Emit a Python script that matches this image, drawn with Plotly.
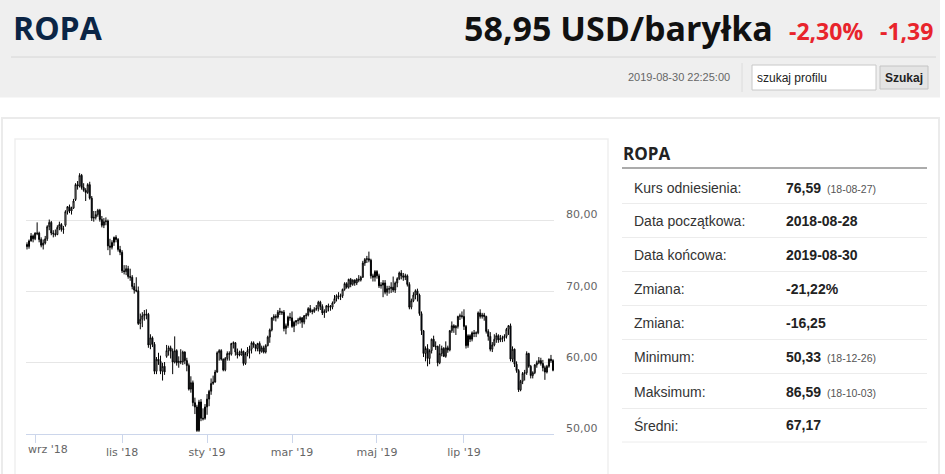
import plotly.graph_objects as go
import pandas as pd

# ---------------- data ----------------
holidays = ['2018-12-25', '2019-01-01', '2019-04-19']
days = [d.strftime('%Y-%m-%d') for d in pd.bdate_range('2018-08-28', '2019-08-30')
        if d.strftime('%Y-%m-%d') not in holidays]

opens = [
    76.6, 76.3, 77.1, 77.8,
    77.4, 78.1, 78.2, 77.3, 76.5, 76.8, 77.4, 79.1, 79.7, 78.2, 78.1, 78.0, 79.0, 79.4, 78.7, 79.3, 81.2, 81.9, 81.3, 81.7,
    82.9, 85.0, 84.8, 86.3, 84.6, 84.2, 83.9, 85.0, 83.1, 80.3, 80.4, 80.8, 81.4, 80.1, 79.3, 79.8, 79.9, 76.4, 76.2, 76.9, 77.6, 77.3, 75.9,
    75.5, 72.9, 72.8, 73.2, 72.1, 72.0, 70.7, 70.2, 70.1, 65.5, 66.1, 66.6, 66.7, 66.8, 62.5, 63.5, 62.6, 58.8, 60.5, 60.2, 58.8, 59.5,
    60.9, 61.7, 62.1, 61.6, 60.1, 61.7, 60.0, 60.2, 60.1, 61.5, 60.3, 59.6, 56.3, 57.2, 54.4, 53.8, 50.5, 54.5, 52.1, 52.2,
    53.8, 54.9, 56.0, 57.1, 57.3, 58.7, 61.4, 61.7, 60.5, 59.0, 60.6, 61.3, 61.2, 62.7, 62.8, 61.5, 61.2, 61.1, 61.6, 59.9, 61.3, 61.7,
    61.9, 62.8, 62.5, 62.0, 62.7, 61.6, 62.1, 61.5, 62.4, 63.6, 64.6, 66.3, 66.5, 66.4, 67.2, 67.0, 67.1, 64.8, 65.2, 66.4,
    66.3, 65.1, 65.7, 65.9, 66.0, 66.3, 65.7, 66.6, 66.7, 67.6, 67.3, 67.2, 67.5, 67.6, 68.5, 67.9, 67.0, 67.2, 68.0, 67.9, 67.8,
    68.4, 69.0, 69.4, 69.3, 69.4, 70.3, 71.1, 70.6, 71.7, 71.0, 71.6, 71.2, 71.7, 71.6, 72.0, 74.0, 74.5, 74.6, 74.4, 72.2, 72.0,
    72.8, 72.2, 70.8, 70.9, 71.2, 69.9, 70.3, 70.4, 70.6, 70.2, 71.2, 71.8, 72.6, 72.2, 72.0, 72.2, 71.0, 67.8, 68.7, 69.5, 70.1, 69.5, 66.9,
    64.5, 61.3, 62.0, 60.6, 61.7, 63.3, 62.2, 62.3, 60.0, 61.3, 62.0, 60.9, 62.1, 61.8, 64.5, 65.2, 64.9, 65.1, 66.5, 66.6,
    66.5, 65.1, 62.4, 63.8, 63.3, 64.2, 64.1, 64.2, 67.0, 66.5, 66.7, 66.5, 64.4, 63.7, 61.9, 62.5, 63.3, 63.8, 63.2, 63.4, 63.5, 63.7, 64.7,
    65.2, 60.5, 61.9, 59.8, 58.9, 56.2, 57.4, 58.5, 58.6, 61.3, 59.5, 58.2, 58.6, 59.7, 60.0, 60.3, 59.9, 59.3, 58.7, 59.5, 60.5, 60.3,
]
highs = [
    76.9, 77.3, 78.2, 78.0,
    78.3, 79.7, 78.4, 77.6, 77.3, 77.8, 79.3, 80.1, 79.9, 78.6, 78.7, 79.3, 79.8, 79.6, 79.2, 81.4, 82.0, 82.2, 81.9, 83.0,
    85.2, 85.5, 86.6, 86.5, 85.2, 84.5, 85.2, 85.4, 83.4, 81.3, 81.3, 81.6, 81.6, 80.6, 80.3, 80.4, 80.1, 77.4, 77.2, 77.7, 77.9, 77.5, 76.4,
    75.8, 73.7, 73.7, 73.6, 73.2, 72.3, 71.2, 72.0, 70.7, 66.9, 67.1, 67.4, 67.5, 67.0, 64.0, 63.7, 62.9, 60.8, 61.4, 61.0, 60.0, 60.1,
    62.5, 62.4, 62.4, 62.0, 63.7, 61.9, 60.9, 61.9, 61.7, 61.6, 60.7, 59.9, 58.1, 57.5, 55.1, 54.1, 54.8, 54.9, 53.6, 54.2,
    55.6, 56.2, 57.8, 58.2, 59.0, 61.6, 61.9, 61.9, 60.6, 60.8, 61.6, 61.6, 62.8, 63.0, 62.9, 62.0, 61.7, 62.0, 61.7, 61.5, 62.2, 62.4,
    63.0, 63.0, 62.6, 62.8, 63.0, 62.4, 62.4, 62.6, 63.8, 64.8, 66.4, 66.8, 66.8, 67.4, 67.7, 67.3, 67.4, 65.5, 66.6, 67.0,
    67.2, 65.9, 66.0, 66.3, 66.5, 66.4, 66.7, 67.0, 67.8, 68.1, 67.5, 67.8, 68.1, 68.7, 68.7, 68.2, 67.5, 68.1, 68.3, 68.1, 68.6,
    69.5, 69.6, 69.9, 69.7, 70.4, 71.3, 71.3, 71.8, 71.9, 71.7, 71.7, 71.9, 72.3, 72.2, 74.3, 74.7, 75.0, 75.6, 74.6, 72.5, 73.0,
    73.0, 72.5, 71.3, 71.6, 71.6, 70.8, 70.8, 71.3, 72.1, 71.4, 72.0, 72.8, 73.0, 72.6, 72.5, 72.4, 71.3, 69.0, 69.9, 70.3, 70.4, 69.7, 67.2,
    64.6, 62.3, 62.6, 61.9, 63.4, 63.8, 63.0, 62.4, 62.6, 62.4, 62.2, 63.0, 62.4, 64.6, 65.8, 65.4, 65.3, 66.6, 66.9, 67.2,
    67.5, 65.3, 64.0, 64.0, 64.4, 64.6, 64.4, 67.2, 67.5, 67.0, 67.0, 66.6, 64.7, 64.3, 62.9, 64.0, 64.2, 64.0, 63.9, 63.8, 64.0, 64.9, 65.3,
    65.5, 62.3, 62.0, 60.2, 59.1, 57.6, 58.7, 59.0, 61.6, 61.4, 59.7, 58.8, 59.8, 60.3, 60.8, 60.7, 60.4, 59.6, 59.7, 60.6, 61.1, 60.5,
]
lows = [
    75.9, 76.0, 77.0, 76.9,
    77.2, 77.9, 76.9, 76.2, 75.9, 76.6, 77.1, 78.6, 77.9, 77.6, 77.7, 77.9, 78.6, 78.4, 78.1, 79.1, 80.8, 81.0, 80.8, 81.6,
    82.7, 84.3, 84.6, 84.3, 84.0, 82.7, 83.7, 82.9, 79.9, 79.8, 80.1, 80.5, 79.8, 79.0, 78.9, 79.3, 75.8, 75.1, 75.9, 76.4, 76.9, 75.6, 75.1,
    72.6, 72.4, 72.3, 71.8, 71.5, 70.3, 69.7, 69.9, 65.3, 64.7, 65.0, 65.9, 66.1, 62.1, 61.9, 62.2, 58.4, 58.4, 59.7, 58.4, 57.5, 58.3,
    60.7, 61.0, 60.6, 58.4, 59.9, 59.6, 59.3, 59.8, 59.7, 59.8, 58.8, 56.1, 55.8, 53.9, 52.8, 50.3, 50.3, 51.8, 51.9, 52.0,
    52.7, 53.9, 55.5, 56.9, 57.2, 58.6, 60.3, 60.3, 58.8, 58.8, 60.3, 60.3, 61.0, 62.0, 61.0, 60.6, 60.9, 61.0, 59.6, 59.7, 60.9, 60.6,
    61.3, 62.1, 61.6, 61.6, 61.2, 61.4, 61.3, 61.3, 62.3, 62.8, 64.4, 65.9, 65.8, 66.2, 66.7, 66.7, 64.4, 64.0, 64.9, 65.9,
    64.9, 64.3, 65.2, 65.4, 65.5, 64.9, 65.4, 66.1, 66.5, 67.0, 66.8, 67.0, 67.3, 67.2, 67.4, 66.7, 66.3, 67.0, 67.2, 67.3, 67.5,
    68.3, 68.6, 68.9, 68.8, 69.1, 70.1, 70.4, 70.4, 70.6, 70.8, 70.8, 70.9, 71.3, 71.4, 71.9, 73.6, 74.0, 74.1, 71.8, 71.4, 71.4,
    71.8, 70.5, 70.4, 69.2, 69.6, 69.4, 69.7, 69.8, 69.9, 69.8, 70.6, 71.6, 71.7, 71.5, 71.6, 70.7, 67.5, 67.5, 68.5, 68.9, 68.6, 66.6, 63.9,
    60.8, 60.2, 59.5, 59.8, 61.3, 62.2, 61.8, 59.5, 59.8, 60.9, 60.8, 60.7, 61.4, 61.6, 64.2, 64.2, 63.9, 64.8, 66.0, 66.2,
    64.6, 62.0, 62.1, 62.9, 63.0, 63.6, 63.6, 64.0, 66.2, 66.2, 65.9, 64.1, 63.1, 61.6, 61.5, 62.3, 62.8, 62.8, 62.9, 62.9, 63.0, 63.4, 63.9,
    60.2, 60.1, 59.4, 58.6, 55.9, 56.0, 57.0, 57.5, 58.3, 59.3, 57.8, 57.8, 58.4, 59.3, 59.8, 59.6, 58.8, 57.6, 58.5, 59.3, 60.0, 58.8,
]
closes = [
    76.3, 77.1, 77.8, 77.4,
    78.2, 78.2, 77.3, 76.5, 76.8, 77.4, 79.1, 79.7, 78.2, 78.1, 78.0, 79.0, 79.4, 78.7, 78.8, 81.2, 81.9, 81.3, 81.7, 82.7,
    85.0, 84.8, 86.3, 84.6, 84.2, 83.9, 85.0, 83.1, 80.3, 80.4, 80.8, 81.4, 80.1, 79.3, 79.8, 79.9, 76.4, 76.2, 76.9, 77.6, 77.3, 75.9, 75.5,
    72.9, 72.8, 73.2, 72.1, 72.0, 70.7, 70.2, 70.1, 65.5, 66.1, 66.6, 66.8, 66.8, 62.5, 63.5, 62.6, 58.8, 60.5, 60.2, 58.8, 59.5, 58.7,
    61.7, 62.1, 61.6, 60.1, 61.7, 60.0, 60.2, 60.1, 61.5, 60.3, 59.6, 56.3, 57.2, 54.4, 53.8, 50.5, 54.5, 52.2, 52.2, 53.8,
    54.9, 56.0, 57.1, 57.3, 58.7, 61.4, 61.7, 60.5, 59.0, 60.6, 61.3, 61.2, 62.7, 62.8, 61.5, 61.1, 61.1, 61.6, 59.9, 61.3, 61.7, 61.9,
    62.8, 62.5, 62.0, 62.7, 61.6, 62.1, 61.5, 62.4, 63.6, 64.6, 66.3, 66.5, 66.4, 67.1, 67.1, 67.1, 64.8, 65.2, 66.4, 66.3,
    65.1, 65.7, 65.9, 66.0, 66.3, 65.7, 66.6, 66.7, 67.6, 67.2, 67.2, 67.5, 67.6, 68.5, 67.9, 67.0, 67.2, 68.0, 67.8, 67.8, 68.4,
    69.0, 69.4, 69.3, 69.4, 70.3, 71.1, 70.6, 71.7, 71.0, 71.6, 71.2, 71.7, 71.6, 72.0, 74.0, 74.5, 74.6, 74.4, 72.2, 72.0, 72.8,
    72.2, 70.8, 70.9, 71.2, 69.9, 70.4, 70.4, 70.6, 70.2, 71.2, 71.8, 72.6, 72.2, 72.0, 72.2, 71.0, 67.8, 68.7, 69.5, 70.1, 69.5, 66.9, 64.5,
    61.3, 62.0, 60.6, 61.7, 63.3, 62.3, 62.3, 60.0, 61.3, 62.0, 60.9, 62.1, 61.8, 64.5, 65.2, 64.9, 65.1, 66.5, 66.6, 66.5,
    65.1, 62.4, 63.8, 63.3, 64.2, 64.1, 64.2, 67.0, 66.5, 66.7, 66.5, 64.4, 63.7, 61.9, 62.5, 63.3, 63.8, 63.2, 63.4, 63.5, 63.7, 64.7, 65.2,
    60.5, 61.9, 59.8, 58.9, 56.2, 57.4, 58.5, 58.6, 61.3, 59.5, 58.2, 58.6, 59.7, 60.0, 60.3, 59.9, 59.3, 58.7, 59.5, 60.5, 60.3, 58.95,
]

tick_days = ['2018-09-03', '2018-11-01', '2019-01-02', '2019-03-01', '2019-05-01', '2019-07-01']
tick_text = ["wrz '18", "lis '18", "sty '19", "mar '19", "maj '19", "lip '19"]
y_ticks = [50, 60, 70, 80, 90]
y_text = ['50,00', '60,00', '70,00', '80,00', '']

table_labels = ['Kurs odniesienia:', 'Data początkowa:', 'Data końcowa:', 'Zmiana:',
                'Zmiana:', 'Minimum:', 'Maksimum:', 'Średni:']
table_values = ['76,59', '2018-08-28', '2019-08-30', '-21,22%', '-16,25', '50,33', '86,59', '67,17']
table_notes = ['(18-08-27)', '', '', '', '', '(18-12-26)', '(18-10-03)', '']

for arr in (opens, highs, lows, closes):
    if len(arr) != len(days):
        raise SystemExit('length mismatch %d vs %d' % (len(arr), len(days)))

# ---------------- geometry ----------------
W, H = 945, 474
PL, PR, PT, PB = 26, 554, 149, 434


def px(x):
    return (x - PL) / (PR - PL)


def py(y):
    return (PB - y) / (PB - PT)


fig = go.Figure()
fig.add_trace(go.Candlestick(
    x=days, open=opens, high=highs, low=lows, close=closes,
    increasing=dict(line=dict(color='#000000', width=1), fillcolor='#ffffff'),
    decreasing=dict(line=dict(color='#000000', width=1), fillcolor='#0d1a33'),
    whiskerwidth=0, showlegend=False,
))

shapes = []


def rect(x0, y0, x1, y1, fill=None, line=None, lw=1):
    shapes.append(dict(type='rect', xref='paper', yref='paper',
                       x0=px(x0), x1=px(x1), y0=py(y1), y1=py(y0),
                       fillcolor=fill if fill else 'rgba(0,0,0,0)',
                       line=dict(color=line if line else 'rgba(0,0,0,0)', width=lw if line else 0),
                       layer='below'))


def hline(x0, x1, y, color, lw=1):
    shapes.append(dict(type='line', xref='paper', yref='paper',
                       x0=px(x0), x1=px(x1), y0=py(y), y1=py(y),
                       line=dict(color=color, width=lw), layer='below'))


def vline(x, y0, y1, color, lw=1):
    shapes.append(dict(type='line', xref='paper', yref='paper',
                       x0=px(x), x1=px(x), y0=py(y0), y1=py(y1),
                       line=dict(color=color, width=lw), layer='below'))


# header
rect(0, 0, 940, 97.5, fill='#efefef')
hline(11, 936, 57, '#d6d6d6')
vline(742, 63, 92, '#dcdcdc')
rect(752, 65, 876, 90, fill='#ffffff', line='#c8c8c8')
rect(880, 66, 928, 89, fill='#e4e4e4', line='#c4c4c4')
# containers
rect(2, 118, 939, 482, line='#ebebeb', lw=2)
rect(15, 139, 608, 482, line='#efefef', lw=1.5)
# right panel lines
hline(622, 927, 168, '#8f8f8f', 1.5)
for yy in [203.5, 237.5, 271.5, 305.5, 339.5, 373.5, 408.5, 442]:
    hline(622, 927, yy, '#ececec', 1)

ann = []


def text(x, y, s, size, color, family='Liberation Sans, Arial', bold=False, anchor='left'):
    ann.append(dict(xref='paper', yref='paper', x=px(x), y=py(y), text=s, showarrow=False,
                    xanchor=anchor, yanchor='middle',
                    font=dict(size=size, color=color, family=family,
                              weight='bold' if bold else 'normal')))


text(11, 27, 'ROPA', 32, '#0b2545', 'Open Sans', True)
text(775, 28, '58,95 USD/baryłka', 34, '#111111', 'Open Sans', True, 'right')
text(787, 31, '-2,30%', 23, '#e8242c', 'Open Sans', True)
text(878, 31, '-1,39', 23, '#e8242c', 'Open Sans', True)
text(732, 77, '2019-08-30 22:25:00', 11, '#666666', anchor='right')
text(755, 77.5, 'szukaj profilu', 12, '#222222')
text(904, 77.5, 'Szukaj', 12, '#222222', bold=True, anchor='center')
text(621, 153, 'ROPA', 17, '#222222', 'Open Sans', True)

row_y = [188, 221, 255, 288.5, 322.5, 356.5, 391.5, 425]
for yy, lab, val, note in zip(row_y, table_labels, table_values, table_notes):
    text(632, yy, lab, 14, '#333333')
    text(784, yy, val, 14, '#222222', bold=True)
    if note:
        text(825, yy + 1, note, 10.5, '#555555')

# first x label justified inside the plot (as the original does)
text(26, 449, tick_text[0], 11, '#666666', 'DejaVu Sans')

# y-axis labels, drawn at the axis values, slightly above each grid line
for v, s in zip(y_ticks, y_text):
    if s:
        ann.append(dict(xref='paper', yref='y', x=px(564), y=v, yshift=5.5, text=s,
                        showarrow=False, xanchor='left', yanchor='middle',
                        font=dict(family='DejaVu Sans', size=11, color='#666666')))

fig.update_layout(
    width=W, height=H, autosize=False,
    margin=dict(l=PL, r=W - PR, t=PT, b=H - PB, pad=0),
    paper_bgcolor='#ffffff', plot_bgcolor='rgba(0,0,0,0)',
    shapes=shapes, annotations=ann, showlegend=False,
    xaxis=dict(type='category', range=[-0.5, len(days) - 0.5],
               rangeslider=dict(visible=False),
               tickmode='array', tickvals=tick_days, ticktext=[''] + tick_text[1:],
               ticks='outside', ticklen=8, tickcolor='#ccd6eb', tickwidth=1,
               showgrid=False, showline=True, linecolor='#ccd6eb', linewidth=1,
               tickfont=dict(family='DejaVu Sans', size=11, color='#666666'),
               fixedrange=True),
    yaxis=dict(range=[50, 90], side='right', tickmode='array', tickvals=y_ticks, ticktext=y_text,
               showgrid=True, gridcolor='#e6e6e6', gridwidth=1, zeroline=False, showline=False,
               ticks='', showticklabels=False,
               fixedrange=True),
)

fig.write_html('out.html', config={'displayModeBar': False},
               post_script="document.body.style.margin='0';document.body.style.overflow='hidden';")
